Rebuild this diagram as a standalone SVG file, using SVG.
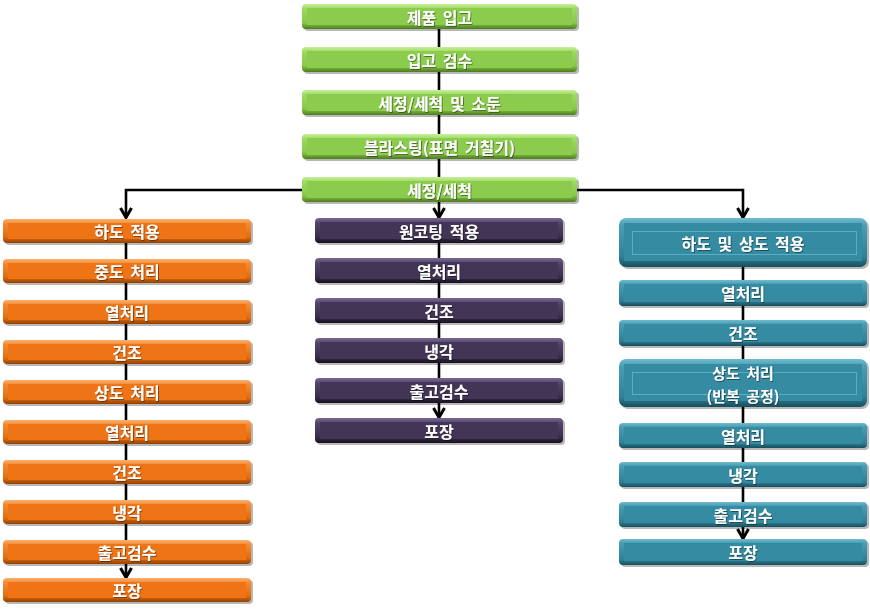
<svg xmlns="http://www.w3.org/2000/svg" width="870" height="610" viewBox="0 0 870 610">
<defs>
<style>
.sh{fill:#000;opacity:.28}
.t{font-family:"Noto Sans CJK KR","Noto Sans",sans-serif;font-weight:bold;font-size:16px;fill:#fff;text-anchor:middle;dominant-baseline:central;word-spacing:3px;filter:url(#ts)}
.ln{fill:none;stroke:#000;stroke-width:2.6}
.green .out{fill:url(#gG)} .green .face{fill:#8ccc4c}
.orange .out{fill:url(#gO)} .orange .face{fill:#ef7415}
.purple .out{fill:url(#gP)} .purple .face{fill:#433556}
.teal .out{fill:url(#gT)} .teal .face{fill:#348ba2}
.teal .in{fill:#348ba2;stroke:#5aaec4;stroke-width:1}
</style>
<filter id="ts" x="-10%" y="-30%" width="120%" height="160%"><feDropShadow dx="0.8" dy="0.8" stdDeviation="0.5" flood-color="#000" flood-opacity="0.55"/></filter>
<linearGradient id="gG" x1="0" y1="0" x2="0" y2="1"><stop offset="0" stop-color="#c8ee9a"/><stop offset=".2" stop-color="#9cd960"/><stop offset=".75" stop-color="#88c848"/><stop offset="1" stop-color="#4e7a22"/></linearGradient>
<linearGradient id="gO" x1="0" y1="0" x2="0" y2="1"><stop offset="0" stop-color="#fbb070"/><stop offset=".2" stop-color="#f58a30"/><stop offset=".75" stop-color="#e46c0e"/><stop offset="1" stop-color="#8e4206"/></linearGradient>
<linearGradient id="gP" x1="0" y1="0" x2="0" y2="1"><stop offset="0" stop-color="#7a6a92"/><stop offset=".2" stop-color="#54446a"/><stop offset=".75" stop-color="#3b2e4c"/><stop offset="1" stop-color="#17111f"/></linearGradient>
<linearGradient id="gT" x1="0" y1="0" x2="0" y2="1"><stop offset="0" stop-color="#70bccf"/><stop offset=".15" stop-color="#4a9db3"/><stop offset=".8" stop-color="#2f8096"/><stop offset="1" stop-color="#174e5c"/></linearGradient>
<marker id="arr" markerUnits="userSpaceOnUse" viewBox="0 0 14 14" refX="12" refY="7" markerWidth="14" markerHeight="14" orient="auto">
<path d="M2,1.5 L11.5,7 L2,12.5" fill="none" stroke="#000" stroke-width="3"/>
</marker>
</defs>

<g id="connectors">
<path class="ln" d="M439,16 V190"/>
<path class="ln" d="M302,190 H126 V218" marker-end="url(#arr)"/>
<path class="ln" d="M439,202 V218" marker-end="url(#arr)"/>
<path class="ln" d="M577,190 H743 V218" marker-end="url(#arr)"/>
<path class="ln" d="M126,231 V578" marker-end="url(#arr)"/>
<path class="ln" d="M439,231 V418" marker-end="url(#arr)"/>
<path class="ln" d="M743,242 V539" marker-end="url(#arr)"/>
</g>

<!-- green -->
<g id="n1" class="green"><rect class="sh" x="304" y="6" width="275" height="25" rx="4"/><rect class="out" x="302" y="4" width="275" height="25" rx="4"/><rect class="face" x="307" y="8" width="265" height="17"/><text class="t" x="439.5" y="16.5">제품 입고</text></g>
<g id="n2" class="green"><rect class="sh" x="304" y="49" width="275" height="25" rx="4"/><rect class="out" x="302" y="47" width="275" height="25" rx="4"/><rect class="face" x="307" y="51" width="265" height="17"/><text class="t" x="439.5" y="59.5">입고 검수</text></g>
<g id="n3" class="green"><rect class="sh" x="304" y="92" width="275" height="25" rx="4"/><rect class="out" x="302" y="90" width="275" height="25" rx="4"/><rect class="face" x="307" y="94" width="265" height="17"/><text class="t" x="439.5" y="102.5">세정/세척 및 소둔</text></g>
<g id="n4" class="green"><rect class="sh" x="304" y="136" width="275" height="25" rx="4"/><rect class="out" x="302" y="134" width="275" height="25" rx="4"/><rect class="face" x="307" y="138" width="265" height="17"/><text class="t" x="439.5" y="146.5">블라스팅(표면 거칠기)</text></g>
<g id="n5" class="green"><rect class="sh" x="304" y="179" width="275" height="25" rx="4"/><rect class="out" x="302" y="177" width="275" height="25" rx="4"/><rect class="face" x="307" y="181" width="265" height="17"/><text class="t" x="439.5" y="189.5">세정/세척</text></g>

<!-- orange -->
<g id="o1" class="orange"><rect class="sh" x="5" y="221" width="248" height="24" rx="4"/><rect class="out" x="3" y="219" width="248" height="24" rx="4"/><rect class="face" x="8" y="223" width="238" height="16"/><text class="t" x="127" y="231">하도 적용</text></g>
<g id="o2" class="orange"><rect class="sh" x="5" y="261" width="248" height="24" rx="4"/><rect class="out" x="3" y="259" width="248" height="24" rx="4"/><rect class="face" x="8" y="263" width="238" height="16"/><text class="t" x="127" y="271">중도 처리</text></g>
<g id="o3" class="orange"><rect class="sh" x="5" y="302" width="248" height="24" rx="4"/><rect class="out" x="3" y="300" width="248" height="24" rx="4"/><rect class="face" x="8" y="304" width="238" height="16"/><text class="t" x="127" y="312">열처리</text></g>
<g id="o4" class="orange"><rect class="sh" x="5" y="342" width="248" height="24" rx="4"/><rect class="out" x="3" y="340" width="248" height="24" rx="4"/><rect class="face" x="8" y="344" width="238" height="16"/><text class="t" x="127" y="352">건조</text></g>
<g id="o5" class="orange"><rect class="sh" x="5" y="382" width="248" height="24" rx="4"/><rect class="out" x="3" y="380" width="248" height="24" rx="4"/><rect class="face" x="8" y="384" width="238" height="16"/><text class="t" x="127" y="392">상도 처리</text></g>
<g id="o6" class="orange"><rect class="sh" x="5" y="422" width="248" height="24" rx="4"/><rect class="out" x="3" y="420" width="248" height="24" rx="4"/><rect class="face" x="8" y="424" width="238" height="16"/><text class="t" x="127" y="432">열처리</text></g>
<g id="o7" class="orange"><rect class="sh" x="5" y="462" width="248" height="24" rx="4"/><rect class="out" x="3" y="460" width="248" height="24" rx="4"/><rect class="face" x="8" y="464" width="238" height="16"/><text class="t" x="127" y="472">건조</text></g>
<g id="o8" class="orange"><rect class="sh" x="5" y="502" width="248" height="24" rx="4"/><rect class="out" x="3" y="500" width="248" height="24" rx="4"/><rect class="face" x="8" y="504" width="238" height="16"/><text class="t" x="127" y="512">냉각</text></g>
<g id="o9" class="orange"><rect class="sh" x="5" y="542" width="248" height="24" rx="4"/><rect class="out" x="3" y="540" width="248" height="24" rx="4"/><rect class="face" x="8" y="544" width="238" height="16"/><text class="t" x="127" y="552">출고검수</text></g>
<g id="o10" class="orange"><rect class="sh" x="5" y="580" width="248" height="24" rx="4"/><rect class="out" x="3" y="578" width="248" height="24" rx="4"/><rect class="face" x="8" y="582" width="238" height="16"/><text class="t" x="127" y="590">포장</text></g>

<!-- purple -->
<g id="p1" class="purple"><rect class="sh" x="317" y="220" width="248" height="25" rx="4"/><rect class="out" x="315" y="218" width="248" height="25" rx="4"/><rect class="face" x="320" y="222" width="238" height="17"/><text class="t" x="439" y="230.5">원코팅 적용</text></g>
<g id="p2" class="purple"><rect class="sh" x="317" y="260" width="248" height="25" rx="4"/><rect class="out" x="315" y="258" width="248" height="25" rx="4"/><rect class="face" x="320" y="262" width="238" height="17"/><text class="t" x="439" y="270.5">열처리</text></g>
<g id="p3" class="purple"><rect class="sh" x="317" y="300" width="248" height="25" rx="4"/><rect class="out" x="315" y="298" width="248" height="25" rx="4"/><rect class="face" x="320" y="302" width="238" height="17"/><text class="t" x="439" y="310.5">건조</text></g>
<g id="p4" class="purple"><rect class="sh" x="317" y="340" width="248" height="25" rx="4"/><rect class="out" x="315" y="338" width="248" height="25" rx="4"/><rect class="face" x="320" y="342" width="238" height="17"/><text class="t" x="439" y="350.5">냉각</text></g>
<g id="p5" class="purple"><rect class="sh" x="317" y="380" width="248" height="25" rx="4"/><rect class="out" x="315" y="378" width="248" height="25" rx="4"/><rect class="face" x="320" y="382" width="238" height="17"/><text class="t" x="439" y="390.5">출고검수</text></g>
<g id="p6" class="purple"><rect class="sh" x="317" y="420" width="248" height="25" rx="4"/><rect class="out" x="315" y="418" width="248" height="25" rx="4"/><rect class="face" x="320" y="422" width="238" height="17"/><text class="t" x="439" y="430.5">포장</text></g>

<!-- teal -->
<g id="t1" class="teal"><rect class="sh" x="621" y="220" width="248" height="49" rx="7"/><rect class="out" x="619" y="218" width="248" height="49" rx="7"/><rect class="face" x="624" y="223" width="238" height="38"/><rect class="in" x="632.5" y="231.5" width="224" height="23"/><text class="t" x="743" y="242.5">하도 및 상도 적용</text></g>
<g id="t2" class="teal"><rect class="sh" x="621" y="282" width="248" height="26" rx="4"/><rect class="out" x="619" y="280" width="248" height="26" rx="4"/><rect class="face" x="624" y="284" width="238" height="18"/><text class="t" x="743" y="293">열처리</text></g>
<g id="t3" class="teal"><rect class="sh" x="621" y="322" width="248" height="26" rx="4"/><rect class="out" x="619" y="320" width="248" height="26" rx="4"/><rect class="face" x="624" y="324" width="238" height="18"/><text class="t" x="743" y="333">건조</text></g>
<g id="t4" class="teal"><rect class="sh" x="621" y="361" width="248" height="48" rx="7"/><rect class="out" x="619" y="359" width="248" height="48" rx="7"/><rect class="face" x="624" y="364" width="238" height="37"/><rect class="in" x="632.5" y="372.5" width="224" height="22"/><text class="t" x="743" y="372.5" style="font-size:15px">상도 처리</text><text class="t" x="743" y="395" style="font-size:15px">(반복 공정)</text></g>
<g id="t5" class="teal"><rect class="sh" x="621" y="425" width="248" height="25" rx="4"/><rect class="out" x="619" y="423" width="248" height="25" rx="4"/><rect class="face" x="624" y="427" width="238" height="17"/><text class="t" x="743" y="435.5">열처리</text></g>
<g id="t6" class="teal"><rect class="sh" x="621" y="464" width="248" height="25" rx="4"/><rect class="out" x="619" y="462" width="248" height="25" rx="4"/><rect class="face" x="624" y="466" width="238" height="17"/><text class="t" x="743" y="474.5">냉각</text></g>
<g id="t7" class="teal"><rect class="sh" x="621" y="504" width="248" height="25" rx="4"/><rect class="out" x="619" y="502" width="248" height="25" rx="4"/><rect class="face" x="624" y="506" width="238" height="17"/><text class="t" x="743" y="514.5">출고검수</text></g>
<g id="t8" class="teal"><rect class="sh" x="621" y="541" width="248" height="26" rx="4"/><rect class="out" x="619" y="539" width="248" height="26" rx="4"/><rect class="face" x="624" y="543" width="238" height="18"/><text class="t" x="743" y="552">포장</text></g>
</svg>
